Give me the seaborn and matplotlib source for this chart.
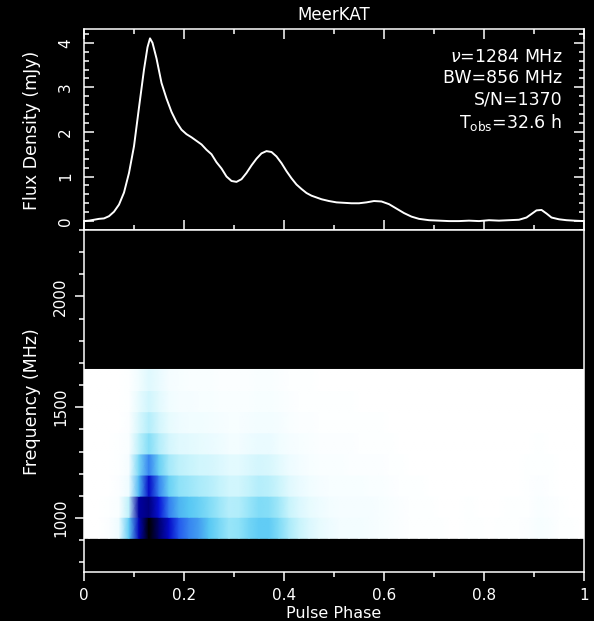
import numpy as np
import matplotlib
matplotlib.use("Agg")
import matplotlib.pyplot as plt
import seaborn as sns
from matplotlib.colors import LinearSegmentedColormap
from matplotlib.ticker import MultipleLocator, FuncFormatter

# ---------------- data ----------------
profile_phase = [0.000, 0.010, 0.020, 0.030, 0.040, 0.050, 0.060, 0.070, 0.080, 0.090,
                 0.100, 0.110, 0.120, 0.127, 0.132, 0.137, 0.145, 0.155, 0.165, 0.175,
                 0.185, 0.195, 0.205, 0.215, 0.225, 0.235, 0.245, 0.255, 0.265, 0.275,
                 0.285, 0.295, 0.305, 0.315, 0.325, 0.335, 0.345, 0.355, 0.365, 0.375,
                 0.385, 0.395, 0.405, 0.415, 0.425, 0.435, 0.445, 0.455, 0.465, 0.475,
                 0.490, 0.505, 0.520, 0.535, 0.550, 0.565, 0.580, 0.595, 0.610, 0.625,
                 0.640, 0.655, 0.670, 0.690, 0.710, 0.730, 0.750, 0.770, 0.790, 0.810,
                 0.830, 0.850, 0.870, 0.885, 0.895, 0.905, 0.915, 0.925, 0.935, 0.950,
                 0.965, 0.980, 1.000]
profile_flux = [0.00, 0.01, 0.03, 0.05, 0.06, 0.11, 0.21, 0.37, 0.64, 1.08,
                1.68, 2.55, 3.40, 3.90, 4.10, 4.00, 3.65, 3.10, 2.75, 2.45,
                2.22, 2.05, 1.95, 1.88, 1.80, 1.72, 1.60, 1.50, 1.32, 1.18,
                1.00, 0.90, 0.88, 0.94, 1.08, 1.25, 1.40, 1.52, 1.57, 1.55,
                1.45, 1.30, 1.12, 0.96, 0.82, 0.72, 0.63, 0.57, 0.53, 0.49,
                0.45, 0.42, 0.41, 0.40, 0.40, 0.42, 0.45, 0.44, 0.38, 0.28,
                0.18, 0.10, 0.05, 0.02, 0.01, 0.00, 0.00, 0.01, 0.00, 0.02,
                0.01, 0.02, 0.03, 0.08, 0.16, 0.24, 0.25, 0.17, 0.08, 0.04,
                0.02, 0.01, 0.00]

channel_freqs = [955.6, 1050.9, 1146.2, 1241.5, 1336.8, 1432.1, 1527.4, 1622.7]  # MHz
channel_width = 95.3

# relative intensity per channel, 50 phase bins (0.02 wide), lowest channel first
chan0 = [0.00, 0.00, 0.02, 0.08, 0.40, 0.78, 1.00, 0.88, 0.75, 0.62,
         0.55, 0.50, 0.42, 0.35, 0.28, 0.30, 0.36, 0.40, 0.40, 0.33,
         0.24, 0.18, 0.13, 0.10, 0.08, 0.06, 0.06, 0.06, 0.05, 0.04,
         0.03, 0.02, 0.01, 0.01, 0.01, 0.01, 0.00, 0.00, 0.01, 0.01,
         0.00, 0.01, 0.01, 0.01, 0.02, 0.04, 0.03, 0.01, 0.01, 0.00]
chan1 = [0.00, 0.00, 0.01, 0.03, 0.20, 0.82, 0.86, 0.72, 0.56, 0.46,
         0.42, 0.38, 0.33, 0.27, 0.22, 0.23, 0.28, 0.33, 0.32, 0.26,
         0.18, 0.13, 0.10, 0.08, 0.06, 0.05, 0.05, 0.05, 0.05, 0.04,
         0.03, 0.02, 0.01, 0.01, 0.01, 0.00, 0.00, 0.00, 0.01, 0.00,
         0.00, 0.00, 0.01, 0.01, 0.01, 0.03, 0.02, 0.01, 0.00, 0.00]
chan2 = [0.00, 0.00, 0.00, 0.02, 0.08, 0.45, 0.75, 0.55, 0.38, 0.30,
         0.27, 0.24, 0.22, 0.19, 0.16, 0.16, 0.19, 0.22, 0.21, 0.17,
         0.12, 0.09, 0.07, 0.05, 0.04, 0.04, 0.04, 0.04, 0.03, 0.03,
         0.02, 0.01, 0.01, 0.01, 0.00, 0.00, 0.00, 0.00, 0.00, 0.00,
         0.00, 0.00, 0.00, 0.00, 0.01, 0.02, 0.01, 0.00, 0.00, 0.00]
chan3 = [0.00, 0.00, 0.00, 0.01, 0.05, 0.35, 0.55, 0.38, 0.25, 0.20,
         0.18, 0.16, 0.15, 0.13, 0.11, 0.11, 0.13, 0.15, 0.14, 0.11,
         0.08, 0.06, 0.04, 0.03, 0.03, 0.03, 0.02, 0.02, 0.02, 0.02,
         0.01, 0.01, 0.00, 0.00, 0.00, 0.00, 0.00, 0.00, 0.00, 0.00,
         0.00, 0.00, 0.00, 0.00, 0.01, 0.01, 0.01, 0.00, 0.00, 0.00]
chan4 = [0.00, 0.00, 0.00, 0.01, 0.03, 0.20, 0.32, 0.22, 0.15, 0.12,
         0.11, 0.10, 0.09, 0.08, 0.06, 0.06, 0.08, 0.09, 0.09, 0.07,
         0.05, 0.04, 0.03, 0.02, 0.02, 0.02, 0.02, 0.01, 0.01, 0.01,
         0.01, 0.00, 0.00, 0.00, 0.00, 0.00, 0.00, 0.00, 0.00, 0.00,
         0.00, 0.00, 0.00, 0.00, 0.00, 0.01, 0.00, 0.00, 0.00, 0.00]
chan5 = [0.00, 0.00, 0.00, 0.00, 0.02, 0.14, 0.22, 0.15, 0.10, 0.08,
         0.07, 0.07, 0.06, 0.05, 0.04, 0.04, 0.05, 0.06, 0.06, 0.05,
         0.03, 0.02, 0.02, 0.01, 0.01, 0.01, 0.01, 0.01, 0.01, 0.01,
         0.00, 0.00, 0.00, 0.00, 0.00, 0.00, 0.00, 0.00, 0.00, 0.00,
         0.00, 0.00, 0.00, 0.00, 0.00, 0.00, 0.00, 0.00, 0.00, 0.00]
chan6 = [0.00, 0.00, 0.00, 0.00, 0.01, 0.10, 0.16, 0.11, 0.07, 0.05,
         0.05, 0.04, 0.04, 0.03, 0.03, 0.03, 0.03, 0.04, 0.04, 0.03,
         0.02, 0.01, 0.01, 0.01, 0.01, 0.01, 0.01, 0.00, 0.00, 0.00,
         0.00, 0.00, 0.00, 0.00, 0.00, 0.00, 0.00, 0.00, 0.00, 0.00,
         0.00, 0.00, 0.00, 0.00, 0.00, 0.00, 0.00, 0.00, 0.00, 0.00]
chan7 = [0.00, 0.00, 0.00, 0.00, 0.01, 0.07, 0.12, 0.09, 0.05, 0.04,
         0.03, 0.03, 0.03, 0.02, 0.02, 0.02, 0.02, 0.03, 0.03, 0.02,
         0.01, 0.01, 0.01, 0.00, 0.00, 0.00, 0.00, 0.00, 0.00, 0.00,
         0.00, 0.00, 0.00, 0.00, 0.00, 0.00, 0.00, 0.00, 0.00, 0.00,
         0.00, 0.00, 0.00, 0.00, 0.00, 0.00, 0.00, 0.00, 0.00, 0.00]

info_lines = [r"$\nu$=1284 MHz", "BW=856 MHz", "S/N=1370", r"T$_{\rm obs}$=32.6 h"]
title = "MeerKAT"

# ---------------- style ----------------
sns.set_theme(style="ticks")
plt.rcParams.update({
    "font.family": ["DejaVu Sans"],
    "mathtext.fontset": "dejavusans",
    "figure.facecolor": "black",
    "axes.facecolor": "black",
    "axes.edgecolor": "white",
    "axes.linewidth": 1.1,
    "text.color": "white",
    "axes.labelcolor": "white",
    "xtick.color": "white",
    "ytick.color": "white",
})

cmap = LinearSegmentedColormap.from_list("pulse", [
    (0.00, "#ffffff"), (0.08, "#eefcff"), (0.18, "#c8f4fc"), (0.30, "#8ee2f8"),
    (0.42, "#58c8f4"), (0.52, "#3f95f0"), (0.60, "#2a6af0"), (0.70, "#0a18e0"),
    (0.80, "#0000b0"), (0.90, "#000060"), (1.00, "#000000")])

W, H = 594, 621
fig = plt.figure(figsize=(W / 100, H / 100), dpi=100)
ax1 = fig.add_axes([84 / W, 1 - 230 / H, 500 / W, 201 / H])
ax2 = fig.add_axes([84 / W, 1 - 572 / H, 500 / W, 342 / H])

# ---------------- top: profile ----------------
sns.lineplot(x=profile_phase, y=profile_flux, ax=ax1, color="white",
             linewidth=1.4, errorbar=None)
ax1.set_xlim(0, 1)
ax1.set_ylim(-0.2, 4.31)
ax1.xaxis.set_major_locator(MultipleLocator(0.2))
ax1.xaxis.set_minor_locator(MultipleLocator(0.1))
ax1.yaxis.set_major_locator(MultipleLocator(1))
ax1.yaxis.set_minor_locator(MultipleLocator(0.2))
ax1.tick_params(which="both", direction="in", top=True, right=True,
                labelbottom=False, labelsize=11, width=1.1)
ax1.tick_params(which="major", length=7)
ax1.tick_params(which="minor", length=3.5)
ax1.tick_params(axis="y", labelrotation=90, pad=8)
for lbl in ax1.get_yticklabels():
    lbl.set_va("center")
ax1.set_xlabel("")
ax1.set_ylabel("")

baselines = [0.836, 0.731, 0.622, 0.507]
for txt, yb in zip(info_lines, baselines):
    ax1.text(0.957, yb, txt, transform=ax1.transAxes, ha="right", va="baseline",
             fontsize=12.5, color="white")

# ---------------- bottom: frequency vs phase ----------------
Z = np.array([chan0, chan1, chan2, chan3, chan4, chan5, chan6, chan7])
nbin = Z.shape[1]
# node positions: bin centres, plus the two phase edges holding the edge-bin value
phase_nodes = np.concatenate([[0.0], (np.arange(nbin) + 0.5) / nbin, [1.0]])
cf = np.asarray(channel_freqs)
lo_edges = cf - channel_width / 2
hi_edges = cf + channel_width / 2
for i in range(Z.shape[0]):
    row = np.concatenate([[Z[i, 0]], Z[i], [Z[i, -1]]])
    ax2.pcolormesh(phase_nodes, [lo_edges[i], hi_edges[i]],
                   np.vstack([row, row]), cmap=cmap, vmin=0, vmax=1,
                   shading="gouraud", zorder=1)
ax2.set_xlim(0, 1)
ax2.set_ylim(756, 2300)
ax2.xaxis.set_major_locator(MultipleLocator(0.2))
ax2.xaxis.set_minor_locator(MultipleLocator(0.1))
ax2.yaxis.set_major_locator(MultipleLocator(500))
ax2.yaxis.set_minor_locator(MultipleLocator(100))
ax2.xaxis.set_major_formatter(FuncFormatter(lambda v, p: f"{v:g}"))
ax2.tick_params(which="both", direction="out", top=False, right=False,
                labelsize=11, width=1.1)
ax2.tick_params(which="major", length=6.5)
ax2.tick_params(which="minor", length=3.5)
ax2.tick_params(axis="x", pad=5)
ax2.tick_params(axis="y", labelrotation=90, pad=5)
for lbl in ax2.get_yticklabels():
    lbl.set_va("center")
for sp in list(ax2.spines.values()) + list(ax1.spines.values()):
    sp.set_visible(True)
    sp.set_color("white")
    sp.set_zorder(5)

fig.text(334 / W, 1 - 20 / H, title, ha="center", va="baseline", fontsize=12)
fig.text(32 / W, 1 - 130 / H, "Flux Density (mJy)", rotation=90, ha="center",
         va="center", fontsize=12.5)
fig.text(32 / W, 1 - 402 / H, "Frequency (MHz)", rotation=90, ha="center",
         va="center", fontsize=12.5)
fig.text(334 / W, 1 - 618 / H, "Pulse Phase", ha="center", va="baseline",
         fontsize=11.5)

fig.savefig("out.png", dpi=100, facecolor="black")
